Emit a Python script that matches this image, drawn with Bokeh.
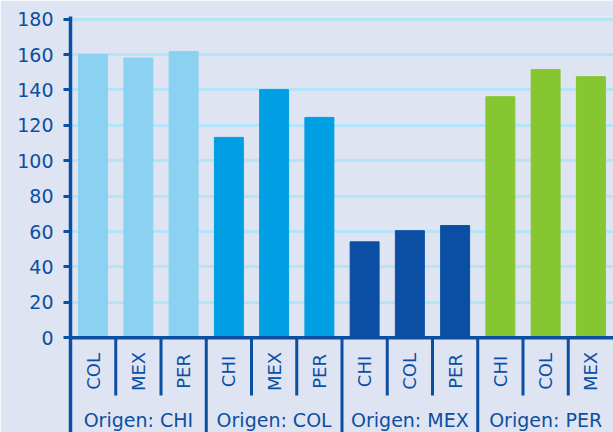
from math import pi

from bokeh.embed import file_html
from bokeh.models import ColumnDataSource, FactorRange, FixedTicker, Span
from bokeh.plotting import figure
from bokeh.resources import INLINE
from bokeh.core.properties import value

# Data: trade index by origin country (group) and destination (bar)
origins = ["CHI", "COL", "MEX", "PER"]
destinations = {
    "CHI": ["COL", "MEX", "PER"],
    "COL": ["CHI", "MEX", "PER"],
    "MEX": ["CHI", "COL", "PER"],
    "PER": ["CHI", "COL", "MEX"],
}
values_chi = [160, 158, 161.7]
values_col = [113.2, 140.2, 124.5]
values_mex = [54.2, 60.5, 63.4]
values_per = [136.2, 151.5, 147.5]
y_ticks = [0, 20, 40, 60, 80, 100, 120, 140, 160, 180]

origin_values = {"CHI": values_chi, "COL": values_col, "MEX": values_mex, "PER": values_per}
origin_colors = {"CHI": "#8AD1F2", "COL": "#009FE3", "MEX": "#0A4FA4", "PER": "#86C731"}

FONT = "DejaVu Sans"
DARK = "#0B4FA3"
BG = "#DFE4F2"
GRID = "#B5E3F7"

def group_name(o):
    return "Origen: " + o

factors = [(group_name(o), d) for o in origins for d in destinations[o]]

bars = ColumnDataSource(dict(
    x=factors,
    top=[v for o in origins for v in origin_values[o]],
    color=[origin_colors[o] for o in origins for _ in destinations[o]],
))

p = figure(
    width=613, height=432,
    x_range=FactorRange(factors=factors, range_padding=0, group_padding=0,
                        subgroup_padding=0, factor_padding=0),
    y_range=(-53.5, 181.5),
    x_axis_location=None,
    toolbar_location=None, output_backend="svg",
    min_border_left=70, min_border_right=0, min_border_top=16, min_border_bottom=0,
)
p.background_fill_color = BG
p.border_fill_color = BG
p.outline_line_color = None
p.xgrid.visible = False

# value axis
yax = p.yaxis[0]
yax.ticker = FixedTicker(ticks=y_ticks)
yax.axis_line_color = DARK
yax.axis_line_width = 3.5
yax.major_tick_line_color = DARK
yax.major_tick_line_width = 3
yax.major_tick_in = 0
yax.major_tick_out = 7
yax.minor_tick_line_color = None
yax.major_label_text_font = FONT
yax.major_label_text_font_size = "19px"
yax.major_label_text_color = DARK
yax.major_label_standoff = 10

p.ygrid.ticker = FixedTicker(ticks=y_ticks[1:])
p.ygrid.grid_line_color = GRID
p.ygrid.grid_line_width = 3

p.vbar(x="x", top="top", bottom=0, width=0.64, color="color", source=bars)

# baseline
p.add_layout(Span(location=0, dimension="width", line_color=DARK, line_width=3.5))

# category separators below the baseline
sep_x, sep_y1 = [], []
for o in origins:
    subs = destinations[o]
    for j, d in enumerate(subs):
        sep_x.append([group_name(o), d, -0.5])
        sep_y1.append(-53.5 if j == 0 else -32.6)
p.segment(x0=sep_x, x1=sep_x, y0=[0] * len(sep_x), y1=sep_y1,
          line_color=DARK, line_width=3)

# destination labels (vertical) and origin labels
p.text(x=factors, y=[-19] * len(factors), text=[f[1] for f in factors],
       angle=pi / 2, text_align="center", text_baseline="middle",
       text_font=value(FONT), text_font_size="18px", text_color=DARK)
p.text(x=[group_name(o) for o in origins], y=[-46.7] * len(origins),
       text=[group_name(o) for o in origins],
       text_align="center", text_baseline="middle",
       text_font=value(FONT), text_font_size="19px", text_color=DARK)

open("out.html", "w").write(file_html(p, INLINE))
